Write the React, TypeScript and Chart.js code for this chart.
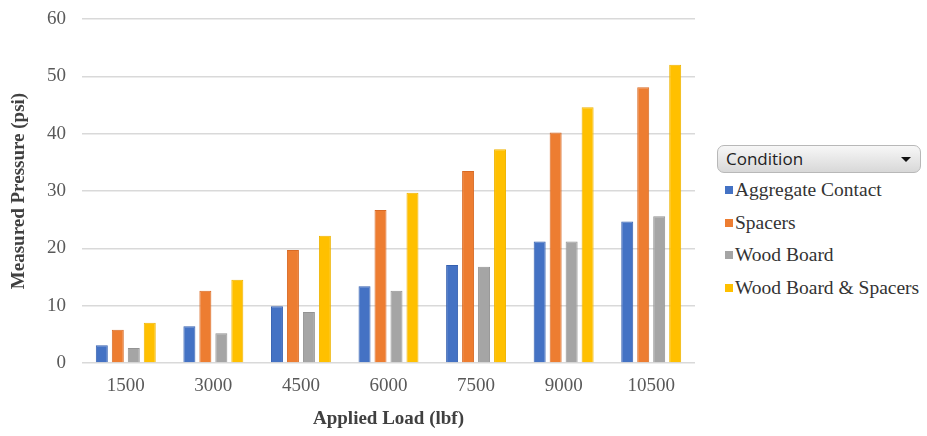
import React, { useEffect, useRef } from "react";
import { Chart, registerables } from "chart.js";

Chart.register(...registerables);

const categories = ["1500", "3000", "4500", "6000", "7500", "9000", "10500"];
const seriesNames = ["Aggregate Contact", "Spacers", "Wood Board", "Wood Board & Spacers"];
const aggregateContact = [3.1, 6.4, 9.9, 13.4, 17.1, 21.2, 24.7];
const spacers = [5.8, 12.6, 19.7, 26.7, 33.5, 40.2, 48.1];
const woodBoard = [2.6, 5.2, 8.9, 12.6, 16.8, 21.2, 25.6];
const woodBoardSpacers = [7.0, 14.5, 22.2, 29.7, 37.3, 44.6, 52.0];
const colors = ["#4472C4", "#ED7D31", "#A5A5A5", "#FFC000"];
const edgeColors = ["#3560B0", "#D86A25", "#939393", "#EFB400"];
const yTicks = [0, 10, 20, 30, 40, 50, 60];

const serif = "'Liberation Serif', 'Times New Roman', serif";

export default function App() {
  const ref = useRef<HTMLCanvasElement>(null);
  useEffect(() => {
    document.body.style.margin = "0";
    const values = [aggregateContact, spacers, woodBoard, woodBoardSpacers];
    const chart = new Chart(ref.current!, {
      type: "bar",
      data: {
        labels: categories,
        datasets: seriesNames.map((n, i) => ({
          label: n,
          data: values[i],
          backgroundColor: colors[i],
          borderColor: edgeColors[i],
          borderWidth: 1,
          barPercentage: 0.75,
          categoryPercentage: 0.73,
        })),
      },
      options: {
        animation: false,
        responsive: false,
        maintainAspectRatio: false,
        layout: { padding: { left: 0, right: 5, top: 19, bottom: 0 } },
        plugins: { legend: { display: false }, tooltip: { enabled: false } },
        scales: {
          x: {
            grid: { display: false },
            border: { display: false },
            ticks: { color: "#595959", font: { family: serif, size: 19 }, padding: 4 },
            title: {
              display: true,
              text: "Applied Load (lbf)",
              color: "#404040",
              font: { family: serif, size: 19, weight: "bold" },
              padding: { top: 14, bottom: 6 },
            },
            afterFit: (s: any) => {
              s.height = 73;
              s.paddingLeft = 0;
              s.paddingRight = 0;
            },
          },
          y: {
            min: 0,
            max: 60,
            afterBuildTicks: (s: any) => {
              s.ticks = yTicks.map((v) => ({ value: v }));
            },
            grid: { color: "#D9D9D9", lineWidth: 1.5, drawTicks: false },
            border: { display: false },
            ticks: { color: "#595959", font: { family: serif, size: 19 }, padding: 16 },
            title: {
              display: true,
              text: "Measured Pressure (psi)",
              color: "#404040",
              font: { family: serif, size: 19, weight: "bold" },
              padding: { top: 8, bottom: 0 },
            },
            afterFit: (s: any) => {
              s.width = 82;
              s.paddingTop = 0;
              s.paddingBottom = 0;
            },
          },
        },
      },
    });
    return () => chart.destroy();
  }, []);

  return (
    <div style={{ position: "relative", width: 927, height: 436, background: "#fff" }}>
      <canvas ref={ref} width={700} height={436} style={{ position: "absolute", left: 0, top: 0 }} />
      <div
        style={{
          position: "absolute",
          left: 717,
          top: 145,
          width: 204,
          height: 28,
          boxSizing: "border-box",
          border: "1px solid #B8B8B8",
          borderRadius: 7,
          background: "linear-gradient(#F7F7F7, #D8D8D8)",
          fontFamily: "'Open Sans', 'DejaVu Sans', sans-serif",
          fontSize: 17,
          color: "#222",
          lineHeight: "26px",
          paddingLeft: 8,
        }}
      >
        Condition
        <span
          style={{
            position: "absolute",
            right: 9,
            top: 11,
            width: 0,
            height: 0,
            borderLeft: "5px solid transparent",
            borderRight: "5px solid transparent",
            borderTop: "5px solid #111",
          }}
        />
      </div>
      {seriesNames.map((n, i) => (
        <div
          key={n}
          style={{
            position: "absolute",
            left: 725,
            top: 177 + i * 32.5,
            height: 26,
            display: "flex",
            alignItems: "center",
            fontFamily: serif,
            fontSize: 19.5,
            color: "#333",
            whiteSpace: "nowrap",
          }}
        >
          <span style={{ display: "inline-block", width: 8, height: 8, background: colors[i], marginRight: 2 }} />
          {n}
        </div>
      ))}
    </div>
  );
}
